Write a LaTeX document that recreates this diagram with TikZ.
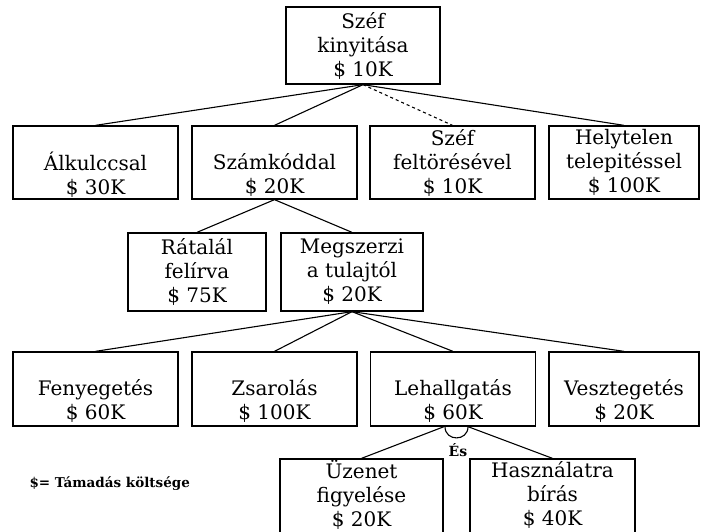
\documentclass[tikz,border=0pt]{standalone}
\usepackage{fontspec}
\setmainfont{DejaVu Serif}
\usetikzlibrary{calc}
\begin{document}
\begin{tikzpicture}[x=1pt, y=-1pt,
  box/.style={draw, line width=1.3pt, minimum width=165pt, minimum height=73pt,
    inner sep=0pt, align=center, font=\fontsize{20}{24}\selectfont},
  lifted/.style={text depth=9pt},
  link/.style={line width=1.1pt}]
  \useasboundingbox (0,0) rectangle (701,532);
  \clip (0,0) rectangle (701,532);
  % Coordinates
  \coordinate (A) at (363.0, 45.5);
  \coordinate (B) at (95.5, 162.5);
  \coordinate (C) at (274.5, 162.5);
  \coordinate (D) at (452.5, 162.5);
  \coordinate (E) at (624.0, 162.5);
  \coordinate (F) at (197.0, 272.0);
  \coordinate (G) at (352.0, 272.0);
  \coordinate (H) at (95.5, 389.0);
  \coordinate (I) at (274.5, 389.0);
  \coordinate (J) at (453.0, 389.0);
  \coordinate (K) at (624.0, 389.0);
  \coordinate (L) at (361.5, 497.5);
  \coordinate (M) at (552.5, 497.5);
  \coordinate (N) at (26.0, 484.0);
  \coordinate (O) at (458.0, 450.0);

  % Drawing
  \node[box, minimum width=154pt, minimum height=77pt] (root) at (A) {Széf\\kinyitása\\\$ 10K};
  \node[box] (alk) at (B) {\strut\\Álkulccsal\\\$ 30K};
  \node[box] (szam) at (C) {\strut\\Számkóddal\\\$ 20K};
  \node[box] (fel) at (D) {Széf\\feltörésével\\\$ 10K};
  \node[box, minimum width=150pt] (hely) at (E) {Helytelen\\telepitéssel\\\$ 100K};
  \node[box, minimum width=138pt, minimum height=78pt] (rat) at (F) {Rátalál\\felírva\\\$ 75K};
  \node[box, minimum width=142pt, minimum height=78pt] (meg) at (G) {Megszerzi\\a tulajtól\\\$ 20K};
  \node[box, minimum height=74pt] (feny) at (H) {\strut\\Fenyegetés\\\$ 60K};
  \node[box, minimum height=74pt] (zsar) at (I) {\strut\\Zsarolás\\\$ 100K};
  \node[box, minimum height=74pt] (leh) at (J) {\strut\\Lehallgatás\\\$ 60K};
  \node[box, minimum width=150pt, minimum height=74pt] (veszt) at (K) {\strut\\Vesztegetés\\\$ 20K};
  \node[box, lifted, minimum width=163pt, minimum height=77pt] (uz) at (L) {Üzenet\\figyelése\\\$ 20K};
  \node[box, lifted, minimum height=77pt] (hasz) at (M) {Használatra\\bírás\\\$ 40K};
  \node[anchor=west, font=\fontsize{13.5}{16}\bfseries\selectfont] (key) at (N) {\$= Támadás költsége};
  \node[font=\fontsize{14}{16}\bfseries\selectfont] (es) at (O) {És};

  \draw[link] (root.south) -- (alk.north);
  \draw[link] (root.south) -- (szam.north);
  \draw[link, dashed] (root.south) -- (fel.north);
  \draw[link] (root.south) -- (hely.north);
  \draw[link] (szam.south) -- (rat.north);
  \draw[link] (szam.south) -- (meg.north);
  \draw[link] (meg.south) -- (feny.north);
  \draw[link] (meg.south) -- (zsar.north);
  \draw[link] (meg.south) -- (leh.north);
  \draw[link] (meg.south) -- (veszt.north);
  \coordinate (P) at ($(leh.south)+(-9,0)$);
  \coordinate (Q) at ($(leh.south)+(15,0)$);
  \draw[link] (P) -- (uz.north);
  \draw[link] (Q) -- (hasz.north);
  \draw[link] ($(leh.south)+(-8,0)$) .. controls +(0,15) and +(0,15) .. ($(leh.south)+(15,0)$);
\end{tikzpicture}
\end{document}
